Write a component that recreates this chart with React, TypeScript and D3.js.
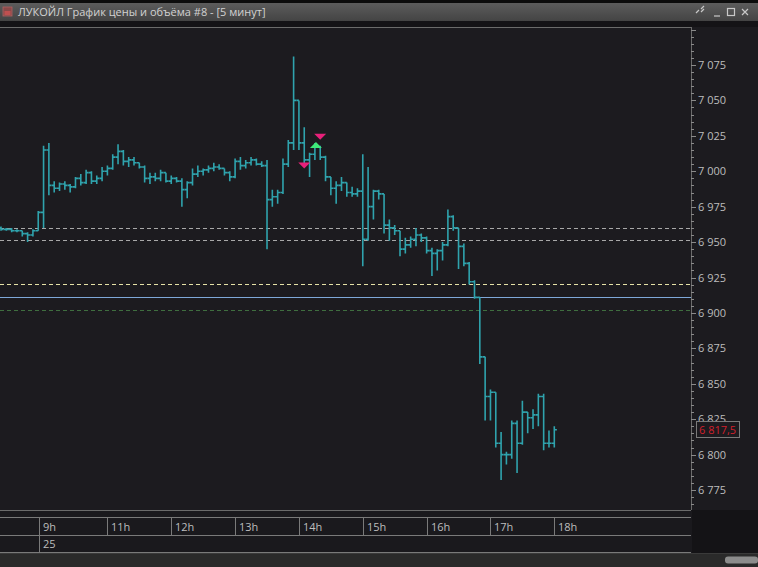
import React from "react";
import * as d3 from "d3";

const opens = [6960,6959,6959,6958,6958,6956,6955,6958,6971,7015,6990,6988,6991,6990,6989,6995,6992,6999,6993,6995,7000,7002,7010,7014,7007,7008,7006,7003,6995,6996,6995,6999,6993,6995,6993,6987,6992,6998,7000,7001,7002,7003,7002,6999,6996,7007,7004,7006,7008,7005,7004,6980,6982,6985,7005,7020,7050,7020,7008,7012,7017,7010,6996,6988,6990,6992,6985,6984,6986,6952,6975,6986,6984,6962,6960,6958,6945,6948,6952,6955,6953,6944,6942,6944,6948,6968,6960,6947,6935,6922,6911,6869,6841,6844,6808,6800,6800,6822,6808,6830,6826,6828,6841,6808,6808];
const highs = [6961,6960,6960,6959,6958,6957,6959,6972,7018,7020,6993,6992,6993,6991,6996,6998,7001,7000,6997,7003,7004,7012,7019,7015,7010,7010,7006,7004,6999,6999,7001,6999,6997,6996,6995,6993,7002,7004,7002,7004,7006,7005,7002,7000,7009,7010,7008,7010,7009,7007,7008,6987,6987,7009,7022,7081,7050,7031,7013,7020,7018,7011,6996,6993,6996,6992,6989,6988,7012,7003,6987,6987,6984,6966,6962,6958,6953,6954,6960,6956,6954,6946,6945,6950,6973,6969,6960,6949,6936,6923,6911,6869,6846,6844,6816,6802,6824,6824,6838,6830,6832,6843,6843,6817,6820];
const lows = [6958,6958,6957,6957,6954,6950,6954,6958,6960,6983,6985,6986,6987,6985,6988,6990,6991,6991,6991,6993,6997,7001,7005,7004,7003,7004,7002,6992,6991,6993,6993,6992,6991,6992,6975,6981,6990,6996,6997,6999,7000,7001,6997,6993,6995,7001,7002,7004,7004,7003,6945,6975,6977,6984,7003,7015,7015,7003,6996,7008,7008,6993,6983,6977,6986,6982,6982,6982,6933,6951,6966,6980,6956,6951,6955,6940,6942,6946,6947,6950,6942,6926,6930,6937,6947,6958,6931,6933,6920,6910,6864,6824,6824,6805,6782,6793,6797,6787,6807,6815,6818,6820,6803,6805,6805];
const closes = [6959,6959,6958,6958,6956,6955,6958,6971,7015,6990,6988,6991,6990,6989,6995,6992,6999,6993,6995,7000,7002,7010,7014,7007,7008,7006,7003,6995,6996,6995,6999,6993,6995,6993,6987,6992,6998,7000,7001,7002,7003,7002,6999,6996,7007,7004,7006,7008,7005,7004,6980,6982,6985,7005,7020,7050,7020,7008,7012,7017,7010,6996,6988,6990,6992,6985,6984,6986,6952,6975,6986,6984,6962,6960,6958,6945,6948,6952,6955,6953,6944,6942,6944,6948,6968,6960,6947,6935,6922,6911,6869,6841,6844,6808,6800,6800,6822,6808,6830,6826,6828,6841,6808,6808,6817.5];

const priceTicks = [7075,7050,7025,7000,6975,6950,6925,6900,6875,6850,6825,6800,6775];
const timeLabels = ["9h","11h","12h","13h","14h","15h","16h","17h","18h"];
const timeIndex = [7.2,20,32,44,56,68,80,92,104];
const dateLabels = ["25"];
const dateIndex = [7.2];
const levelPrices = [6960,6951.5,6920.5,6911,6902];
const levelColors = ["#a8a8a8","#a8a8a8","#e6e2a6","#7ea8d8","#3f6e3f"];
const levelDash = ["4,3","4,3","4,3","","4,3"];
const markerIndex = [57,59.2,60];
const markerPrice = [7004,7018.5,7024.4];
const markerDir = ["down","up","down"];
const lastPrice = 6817.5;

const W = 758, H = 567;
const plotL = 0, plotR = 691, plotT = 27, plotB = 510;

export default function App() {
  const x = d3.scaleLinear().domain([0, 104]).range([1, 554.3]);
  const y = d3.scaleLinear().domain([6775, 7075]).range([490, 65]);
  const minor = d3.range(6765, 7105, 5).filter(v => y(v) > plotT + 2 && y(v) < plotB - 2);
  const font = "'Open Sans', 'DejaVu Sans', sans-serif";
  const tick = 2.6;
  const tri = (cx: number, cy: number, dir: string) => {
    const w = 6, h = 6;
    return dir === "up"
      ? `M${cx - w},${cy + h / 2}L${cx + w},${cy + h / 2}L${cx},${cy - h / 2}Z`
      : `M${cx - w},${cy - h / 2}L${cx + w},${cy - h / 2}L${cx},${cy + h / 2}Z`;
  };
  return (
    <svg width={W} height={H} style={{ position: "fixed", left: 0, top: 0, display: "block" }} fontFamily={font}>
      <defs>
        <linearGradient id="tb" x1="0" y1="0" x2="0" y2="1">
          <stop offset="0" stopColor="#5c5c5c" />
          <stop offset="1" stopColor="#444444" />
        </linearGradient>
        <clipPath id="pc"><rect x={plotL} y={plotT} width={plotR - plotL} height={plotB - plotT} /></clipPath>
      </defs>
      <rect width={W} height={H} fill="#141316" />
      <rect x={0} y={0} width={W} height={3} fill="#0c0c0c" />
      <rect x={0} y={3} width={W} height={18} fill="url(#tb)" />
      <rect x={3} y={7} width={9} height={9} fill="#8a4a4a" stroke="#b06060" strokeWidth={0.8} />
      <rect x={4.5} y={11} width={6} height={4} fill="#c05050" />
      <text x={18} y={16} fontSize={11} fill="#d2d2d2">ЛУКОЙЛ График цены и объёма #8 - [5 минут]</text>
      <g stroke="#c8c8c8" strokeWidth={1.2} fill="none">
        <path d="M696,13 l3,-3 m2,-1 l3,-3 m-3,6 l3,-3" />
        <path d="M714,16 h6" />
        <rect x={727.5} y={8.5} width={7} height={7} />
        <path d="M742,9 l6,6 m0,-6 l-6,6" />
      </g>
      <rect x={plotL} y={plotT} width={plotR - plotL} height={plotB - plotT} fill="#1c1b1f" />
      <rect x={plotR} y={plotT} width={W - plotR} height={plotB - plotT} fill="#1c1b1f" />
      <g clipPath="url(#pc)">
        {levelPrices.map((p, i) => (
          <line key={"lv" + i} x1={plotL} x2={plotR} y1={Math.round(y(p)) + 0.5} y2={Math.round(y(p)) + 0.5}
            stroke={levelColors[i]} strokeWidth={1} strokeDasharray={levelDash[i] || undefined} />
        ))}
        <g stroke="#2fa3ad" strokeWidth={1.6} fill="none">
          {opens.map((o, i) => {
            const cx = x(i);
            return (
              <path key={"b" + i}
                d={`M${cx},${y(highs[i])}V${y(lows[i])}M${cx - tick},${y(o)}H${cx}M${cx},${y(closes[i])}H${cx + tick}`} />
            );
          })}
        </g>
        {markerIndex.map((mi, k) => (
          <path key={"m" + k} d={tri(x(mi), y(markerPrice[k]), markerDir[k])}
            fill={markerDir[k] === "up" ? "#3ee878" : "#e8207a"} />
        ))}
      </g>
      <g stroke="#6b6b6b" strokeWidth={1} fill="none">
        <line x1={plotL} x2={plotR} y1={plotT + 0.5} y2={plotT + 0.5} />
        <line x1={plotR + 0.5} x2={plotR + 0.5} y1={plotT} y2={plotB} />
        <line x1={plotL} x2={plotR} y1={plotB + 0.5} y2={plotB + 0.5} />
      </g>
      <g stroke="#8a8a8a" strokeWidth={1}>
        {minor.map(v => (
          <line key={"mn" + v} x1={plotR} x2={plotR + (v % 25 === 0 ? 5 : 3)} y1={Math.round(y(v)) + 0.5} y2={Math.round(y(v)) + 0.5} />
        ))}
      </g>
      {priceTicks.map(v => (
        <text key={"pt" + v} x={698} y={y(v) + 4} fontSize={11} fill="#bdbdbd">
          {d3.format(",")(v).replace(",", " ")}
        </text>
      ))}
      <rect x={696.5} y={421.5} width={43} height={16} fill="#1c1b1f" stroke="#7a7a7a" strokeWidth={1} />
      <text x={699} y={y(lastPrice) + 4} fontSize={11} fill="#d0202c">{"6 817,5"}</text>
      <rect x={0} y={511} width={plotR + 1} height={42} fill="#1a191d" />
      <g stroke="#7a7a7a" strokeWidth={1}>
        <line x1={0} x2={plotR} y1={517.5} y2={517.5} />
        <line x1={0} x2={plotR} y1={535.5} y2={535.5} />
        <line x1={0} x2={plotR} y1={552.5} y2={552.5} />
        {timeIndex.map((t, i) => (
          <line key={"tl" + i} x1={Math.round(x(t)) + 0.5} x2={Math.round(x(t)) + 0.5} y1={517} y2={535} />
        ))}
        {dateIndex.map((t, i) => (
          <line key={"dl" + i} x1={Math.round(x(t)) + 0.5} x2={Math.round(x(t)) + 0.5} y1={535} y2={552} />
        ))}
      </g>
      {timeLabels.map((l, i) => (
        <text key={"tx" + i} x={Math.round(x(timeIndex[i])) + 4} y={531} fontSize={11} fill="#bdbdbd">{l}</text>
      ))}
      {dateLabels.map((l, i) => (
        <text key={"dx" + i} x={Math.round(x(dateIndex[i])) + 4} y={548} fontSize={11} fill="#bdbdbd">{l}</text>
      ))}
      <rect x={0} y={553} width={W} height={14} fill="#2a2a2a" />
      <rect x={0} y={553} width={W} height={1} fill="#3a3a3a" />
      <rect x={725} y={556.5} width={33} height={7} rx={3} fill="#8c8c8c" />
    </svg>
  );
}
